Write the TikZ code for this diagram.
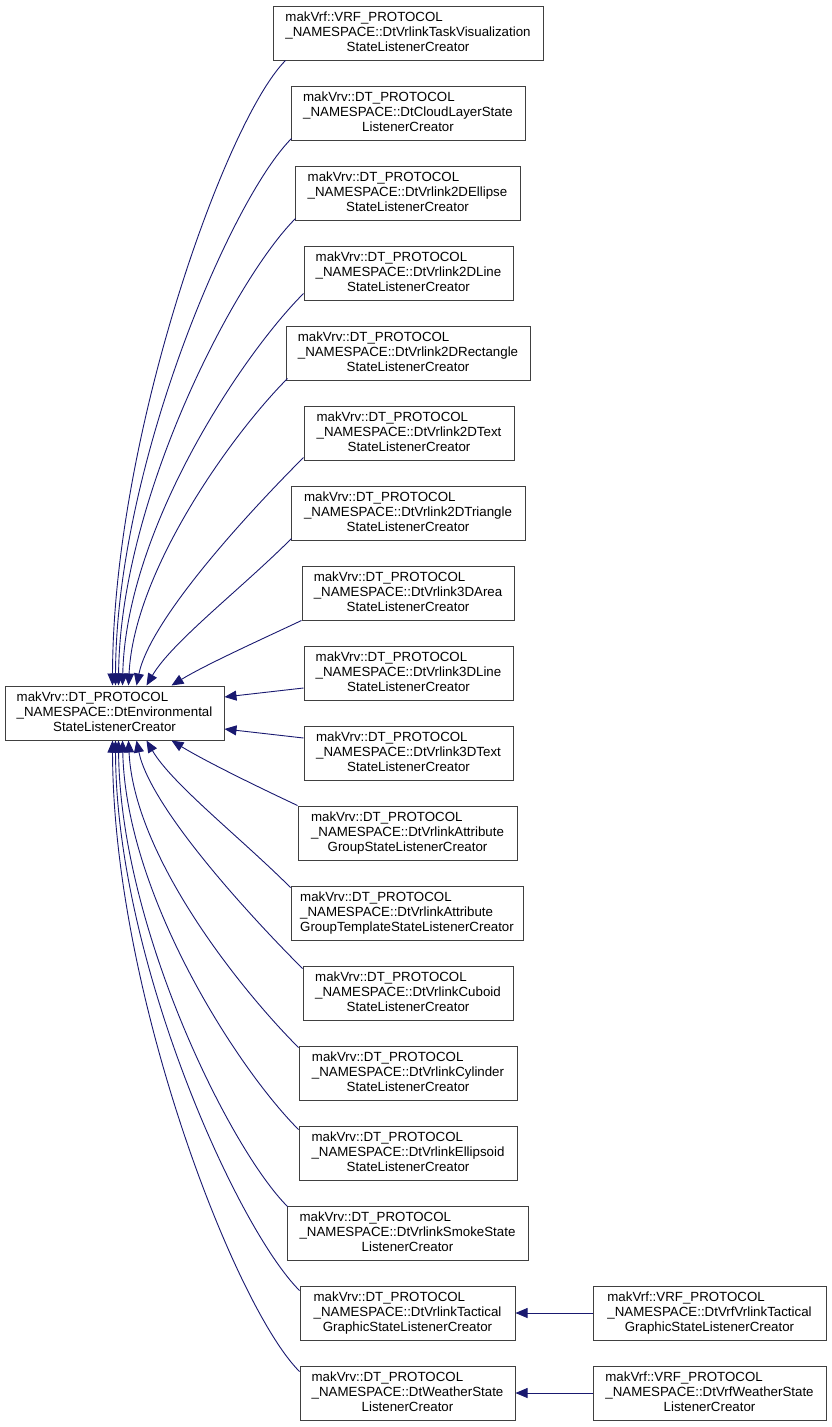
\documentclass[tikz,border=0pt]{standalone}
\usepackage{fontspec}
\setmainfont{Liberation Sans}
\usetikzlibrary{arrows.meta}
\definecolor{edgeblue}{HTML}{191970}
\newcommand{\boxlbl}[3]{\begin{tabular}{@{}l@{}}#1\\#2\\\multicolumn{1}{@{}c@{}}{#3}\end{tabular}}
\tikzset{
  cls/.style={draw=black!75, line width=1pt, fill=white, inner sep=0pt,
    minimum height=54pt, font=\fontsize{13.3}{15}\selectfont},
  edge/.style={draw=edgeblue, line width=0.9pt, -{Triangle[length=12pt,width=10pt]}},
}
\begin{document}
\begin{tikzpicture}[x=1pt,y=-1pt]
\useasboundingbox (0,0) rectangle (832,1427);
\node[cls, minimum width=219pt] (main) at (114.5,713) {\boxlbl{makVrv::DT\_PROTOCOL}{\_NAMESPACE::DtEnvironmental}{StateListenerCreator}};
\node[cls, minimum width=270pt] (b1) at (408,33) {\boxlbl{makVrf::VRF\_PROTOCOL}{\_NAMESPACE::DtVrlinkTaskVisualization}{StateListenerCreator}};
\node[cls, minimum width=234pt] (b2) at (408,113) {\boxlbl{makVrv::DT\_PROTOCOL}{\_NAMESPACE::DtCloudLayerState}{ListenerCreator}};
\node[cls, minimum width=225pt] (b3) at (407.5,193) {\boxlbl{makVrv::DT\_PROTOCOL}{\_NAMESPACE::DtVrlink2DEllipse}{StateListenerCreator}};
\node[cls, minimum width=209pt] (b4) at (408.5,273) {\boxlbl{makVrv::DT\_PROTOCOL}{\_NAMESPACE::DtVrlink2DLine}{StateListenerCreator}};
\node[cls, minimum width=244pt] (b5) at (408,353) {\boxlbl{makVrv::DT\_PROTOCOL}{\_NAMESPACE::DtVrlink2DRectangle}{StateListenerCreator}};
\node[cls, minimum width=210pt] (b6) at (409,433) {\boxlbl{makVrv::DT\_PROTOCOL}{\_NAMESPACE::DtVrlink2DText}{StateListenerCreator}};
\node[cls, minimum width=234pt] (b7) at (408,513) {\boxlbl{makVrv::DT\_PROTOCOL}{\_NAMESPACE::DtVrlink2DTriangle}{StateListenerCreator}};
\node[cls, minimum width=212pt] (b8) at (408,593) {\boxlbl{makVrv::DT\_PROTOCOL}{\_NAMESPACE::DtVrlink3DArea}{StateListenerCreator}};
\node[cls, minimum width=209pt] (b9) at (408.5,673) {\boxlbl{makVrv::DT\_PROTOCOL}{\_NAMESPACE::DtVrlink3DLine}{StateListenerCreator}};
\node[cls, minimum width=209pt] (b10) at (408.5,753) {\boxlbl{makVrv::DT\_PROTOCOL}{\_NAMESPACE::DtVrlink3DText}{StateListenerCreator}};
\node[cls, minimum width=219pt] (b11) at (407.5,833) {\boxlbl{makVrv::DT\_PROTOCOL}{\_NAMESPACE::DtVrlinkAttribute}{GroupStateListenerCreator}};
\node[cls, minimum width=232pt] (b12) at (407,913) {\boxlbl{makVrv::DT\_PROTOCOL}{\_NAMESPACE::DtVrlinkAttribute}{GroupTemplateStateListenerCreator}};
\node[cls, minimum width=210pt] (b13) at (408,993) {\boxlbl{makVrv::DT\_PROTOCOL}{\_NAMESPACE::DtVrlinkCuboid}{StateListenerCreator}};
\node[cls, minimum width=218pt] (b14) at (408,1073) {\boxlbl{makVrv::DT\_PROTOCOL}{\_NAMESPACE::DtVrlinkCylinder}{StateListenerCreator}};
\node[cls, minimum width=218pt] (b15) at (408,1153) {\boxlbl{makVrv::DT\_PROTOCOL}{\_NAMESPACE::DtVrlinkEllipsoid}{StateListenerCreator}};
\node[cls, minimum width=241pt] (b16) at (407.5,1233) {\boxlbl{makVrv::DT\_PROTOCOL}{\_NAMESPACE::DtVrlinkSmokeState}{ListenerCreator}};
\node[cls, minimum width=215pt] (b17) at (407.5,1313) {\boxlbl{makVrv::DT\_PROTOCOL}{\_NAMESPACE::DtVrlinkTactical}{GraphicStateListenerCreator}};
\node[cls, minimum width=215pt] (b18) at (407.5,1393) {\boxlbl{makVrv::DT\_PROTOCOL}{\_NAMESPACE::DtWeatherState}{ListenerCreator}};
\node[cls, minimum width=233pt] (r17) at (709.5,1313) {\boxlbl{makVrf::VRF\_PROTOCOL}{\_NAMESPACE::DtVrfVrlinkTactical}{GraphicStateListenerCreator}};
\node[cls, minimum width=233pt] (r18) at (709.5,1393) {\boxlbl{makVrf::VRF\_PROTOCOL}{\_NAMESPACE::DtVrfWeatherState}{ListenerCreator}};
% upper edges
\draw[edge] ([shift={(13,0)}]b1.south west) .. controls (226,120) and (113,436) .. ([shift={(108,0)}]main.north west);
\draw[edge] ([shift={(1,-2)}]b2.south west) .. controls (231,199) and (116,467) .. ([shift={(111,0)}]main.north west);
\draw[edge] ([shift={(1,-2)}]b3.south west) .. controls (235,279) and (120,499) .. ([shift={(114,0)}]main.north west);
\draw[edge] ([shift={(0,-7)}]b4.south west) .. controls (242,355) and (126,529) .. ([shift={(118,0)}]main.north west);
\draw[edge] ([shift={(2,-2)}]b5.south west) .. controls (233,433) and (134,570) .. ([shift={(124,0)}]main.north west);
\draw[edge] ([shift={(0,-3)}]b6.south west) .. controls (246,515) and (150,620) .. ([shift={(132,0)}]main.north west);
\draw[edge] ([shift={(1,-2)}]b7.south west) .. controls (241,589) and (172,642) .. ([shift={(142,0)}]main.north west);
\draw[edge] (b8.south west) .. controls (260,640) and (205,665) .. ([shift={(167,0)}]main.north west);
% side edges
\draw[edge] ([shift={(0,15)}]b9.west) -- ([shift={(0,-16)}]main.east);
\draw[edge] ([shift={(0,-15)}]b10.west) -- ([shift={(0,16)}]main.east);
% lower edges
\draw[edge] (b11.north west) .. controls (256,786) and (205,761) .. ([shift={(167,0)}]main.south west);
\draw[edge] ([shift={(0,2)}]b12.north west) .. controls (241,838) and (172,784) .. ([shift={(142,0)}]main.south west);
\draw[edge] ([shift={(0,3)}]b13.north west) .. controls (245,911) and (150,806) .. ([shift={(132,0)}]main.south west);
\draw[edge] ([shift={(0,2)}]b14.north west) .. controls (240,989) and (134,856) .. ([shift={(124,0)}]main.south west);
\draw[edge] ([shift={(0,4)}]b15.north west) .. controls (238,1069) and (126,896) .. ([shift={(118,0)}]main.south west);
\draw[edge] ([shift={(1,1)}]b16.north west) .. controls (230,1149) and (120,927) .. ([shift={(114,0)}]main.south west);
\draw[edge] ([shift={(0,5)}]b17.north west) .. controls (237,1228) and (116,960) .. ([shift={(111,0)}]main.south west);
\draw[edge] ([shift={(0,6)}]b18.north west) .. controls (235,1307) and (113,993) .. ([shift={(108,0)}]main.south west);
% right edges
\draw[edge] (r17.west) -- (b17.east);
\draw[edge] (r18.west) -- (b18.east);
\end{tikzpicture}
\end{document}
